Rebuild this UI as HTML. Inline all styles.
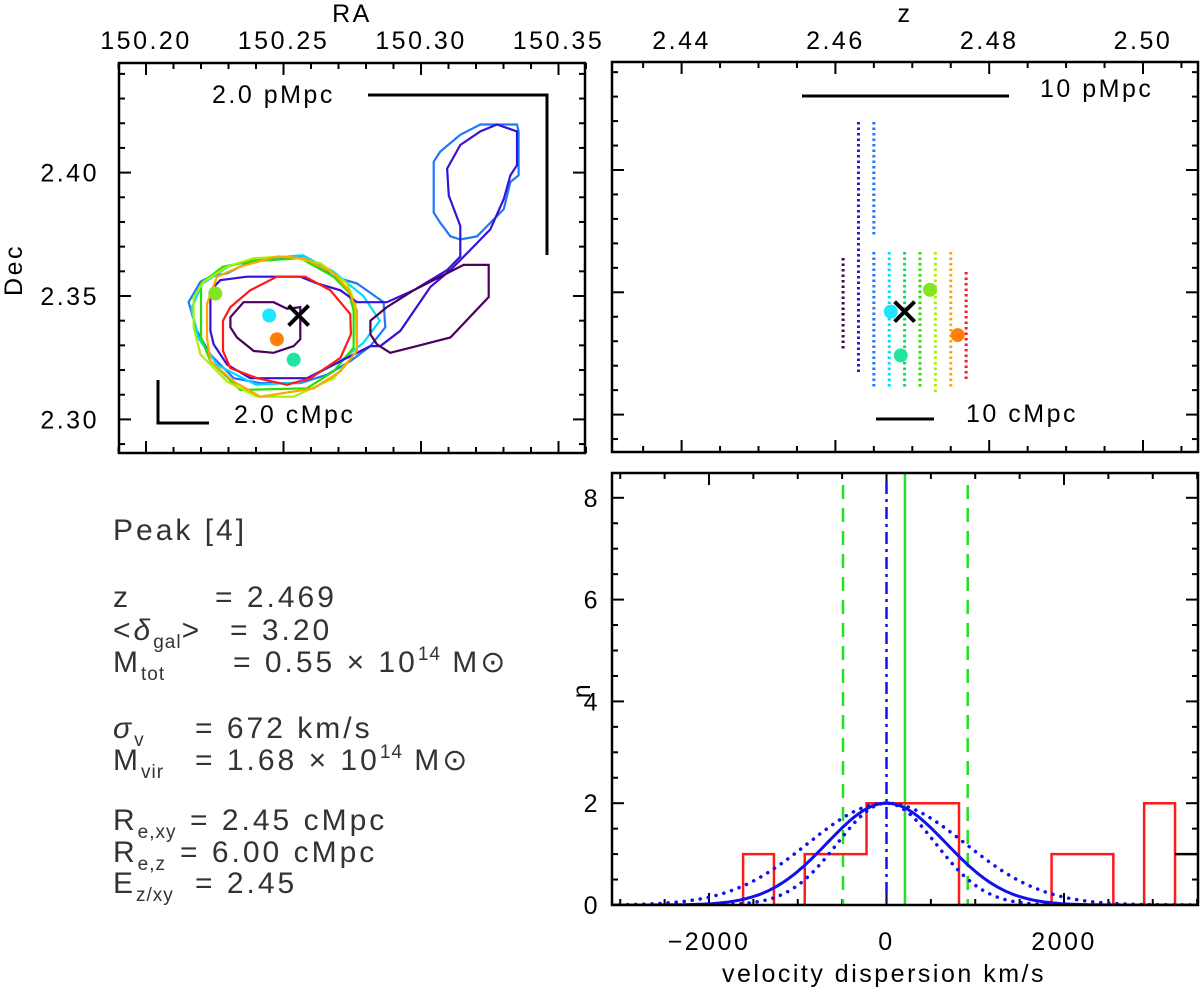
<!DOCTYPE html>
<html><head><meta charset="utf-8"><style>
html,body{margin:0;padding:0;background:#fff;}
svg{display:block;font-family:"Liberation Sans",sans-serif;}
.tl{font-size:25px;letter-spacing:2.5px;fill:#000;}
.info{font-size:30px;fill:#333;font-weight:normal;letter-spacing:3px;}
</style></head><body>
<svg id="fig" width="1200" height="992" viewBox="0 0 1200 992" xmlns="http://www.w3.org/2000/svg">
<g id="info" class="info" xml:space="preserve">
<text x="113" y="540">Peak [4]</text>
<text x="113" y="607">z<tspan x="215">=  2.469</tspan></text>
<text x="113" y="640">&lt;<tspan font-style="italic">δ</tspan><tspan font-size="19" dy="8" letter-spacing="1">gal</tspan><tspan dy="-8">&gt;</tspan><tspan x="230">=  3.20</tspan></text>
<text x="113" y="672">M<tspan font-size="19" dy="8" letter-spacing="1">tot</tspan><tspan x="233" dy="-8">=  0.55 × 10</tspan><tspan font-size="19" dy="-12" letter-spacing="1">14</tspan><tspan dy="12"> M⊙</tspan></text>
<text x="113" y="738"><tspan font-style="italic">σ</tspan><tspan font-size="19" dy="8">v</tspan><tspan x="195" dy="-8">=  672 km/s</tspan></text>
<text x="113" y="770">M<tspan font-size="19" dy="8" letter-spacing="1">vir</tspan><tspan x="195" dy="-8">=  1.68 × 10</tspan><tspan font-size="19" dy="-12" letter-spacing="1">14</tspan><tspan dy="12"> M⊙</tspan></text>
<text x="113" y="830">R<tspan font-size="19" dy="8" letter-spacing="1">e,xy</tspan><tspan x="190" dy="-8">=  2.45 cMpc</tspan></text>
<text x="113" y="862">R<tspan font-size="19" dy="8" letter-spacing="1">e,z</tspan><tspan x="180" dy="-8">=  6.00 cMpc</tspan></text>
<text x="113" y="893">E<tspan font-size="19" dy="8" letter-spacing="1">z/xy</tspan><tspan x="195" dy="-8">=  2.45</tspan></text>
</g>
</svg>
<script>
// ---------- DATA ----------
const raTickLabels=["150.20","150.25","150.30","150.35"];
const decTickLabels=["2.30","2.35","2.40"];
const zTickLabels=["2.44","2.46","2.48","2.50"];
const nTickLabels=["0","2","4","6","8"];
const vTickLabels=["-2000","0","2000"];
// contours (RA, Dec)
const contourPurpleInnerRA=[150.2307,150.2355,150.2464,150.2513,150.2561,150.2561,150.2537,150.2464,150.2392,150.2331,150.2307];
const contourPurpleInnerDec=[2.3414,2.3475,2.3475,2.3448,2.3455,2.3325,2.3297,2.3270,2.3277,2.3332,2.3373];
const contourPurpleArmRA=[150.2816,150.2876,150.2973,150.3155,150.3246,150.3246,150.3107,150.2985,150.2888,150.2840,150.2816];
const contourPurpleArmDec=[2.3400,2.3455,2.3523,2.3626,2.3626,2.3496,2.3332,2.3297,2.3270,2.3304,2.3345];
const contourIndigoRA=[150.2234,150.2270,150.2367,150.2561,150.2622,150.2707,150.2767,150.2876,150.2973,150.3095,150.3143,150.3143,150.3101,150.3095,150.3143,150.3216,150.3276,150.3349,150.3349,150.3325,150.3301,150.3252,150.3192,150.3107,150.3034,150.2925,150.2852,150.2816,150.2755,150.2682,150.2585,150.2379,150.2295,150.2246,150.2234];
const contourIndigoDec=[2.3523,2.3564,2.3578,2.3578,2.3551,2.3523,2.3475,2.3475,2.3523,2.3605,2.3660,2.3784,2.3907,2.4016,2.4112,2.4167,2.4195,2.4167,2.4030,2.3989,2.3893,2.3770,2.3701,2.3605,2.3537,2.3359,2.3297,2.3297,2.3263,2.3222,2.3167,2.3167,2.3222,2.3304,2.3359];
const contourBlueRA=[150.2155,150.2198,150.2234,150.2295,150.2392,150.2561,150.2610,150.2682,150.2767,150.2864,150.2870,150.2816,150.2743,150.2658,150.2561,150.2416,150.2319,150.2234,150.2185];
const contourBlueDec=[2.3475,2.3558,2.3578,2.3592,2.3647,2.3660,2.3633,2.3578,2.3551,2.3475,2.3373,2.3297,2.3236,2.3181,2.3147,2.3147,2.3167,2.3263,2.3359];
const contourBlueBlobRA=[150.3046,150.3070,150.3143,150.3216,150.3349,150.3355,150.3355,150.3325,150.3301,150.3204,150.3143,150.3107,150.3070,150.3046];
const contourBlueBlobDec=[2.4044,2.4085,2.4153,2.4195,2.4195,2.4167,2.3989,2.3962,2.3852,2.3742,2.3729,2.3742,2.3797,2.3838];
const contourCyanRA=[150.2165,150.2205,150.2300,150.2400,150.2570,150.2680,150.2790,150.2850,150.2790,150.2700,150.2560,150.2400,150.2260,150.2190];
const contourCyanDec=[2.3450,2.3550,2.3620,2.3650,2.3665,2.3600,2.3500,2.3400,2.3310,2.3230,2.3150,2.3140,2.3220,2.3330];
const contourGreenRA=[150.2200,150.2280,150.2380,150.2561,150.2682,150.2737,150.2755,150.2755,150.2682,150.2585,150.2343,150.2234,150.2200];
const contourGreenDec=[2.3551,2.3619,2.3640,2.3653,2.3578,2.3516,2.3441,2.3291,2.3195,2.3126,2.3119,2.3236,2.3332];
const contourYGreenRA=[150.2173,150.2210,150.2295,150.2392,150.2513,150.2634,150.2731,150.2761,150.2767,150.2682,150.2537,150.2404,150.2295,150.2198,150.2173];
const contourYGreenDec=[2.3496,2.3558,2.3619,2.3653,2.3660,2.3633,2.3551,2.3468,2.3277,2.3167,2.3092,2.3092,2.3153,2.3263,2.3373];
const contourOrangeRA=[150.2222,150.2258,150.2343,150.2476,150.2573,150.2682,150.2737,150.2767,150.2767,150.2707,150.2610,150.2416,150.2319,150.2234,150.2222];
const contourOrangeDec=[2.3468,2.3578,2.3619,2.3660,2.3653,2.3592,2.3523,2.3441,2.3277,2.3195,2.3126,2.3092,2.3153,2.3236,2.3332];
const contourRedRA=[150.2280,150.2307,150.2379,150.2476,150.2579,150.2670,150.2743,150.2745,150.2707,150.2598,150.2513,150.2404,150.2307,150.2280];
const contourRedDec=[2.3400,2.3455,2.3523,2.3578,2.3578,2.3523,2.3427,2.3345,2.3249,2.3167,2.3140,2.3167,2.3208,2.3277];
// galaxies
const galRA=[150.2252,150.2448,150.2476,150.2537];
const galDec=[2.3510,2.3421,2.3325,2.3242];
const galZ=[2.4723,2.4672,2.4759,2.4685];
const peakRA=150.2555, peakDec=2.3421, peakZ=2.469;
// z-slices (dotted)
const sliceZ=[2.461,2.463,2.465,2.465,2.467,2.469,2.471,2.473,2.475,2.477];
const sliceDecTop=[2.3640,2.4196,2.4196,2.3665,2.3665,2.3665,2.3665,2.3665,2.3665,2.3583];
const sliceDecBot=[2.3264,2.3170,2.3726,2.3113,2.3113,2.3113,2.3113,2.3088,2.3113,2.3141];
// histogram
const binEdges=[-1616,-1268,-921,-573,-225,122,470,817,1165,1513,1860,2208,2556,2903,3251];
const binCounts=[1,0,1,1,2,2,2,0,0,0,1,1,0,2];
const overflowLevel=1;
const fitAmp=2, fitMean=0;
const fitSigmas=[672,883,552];
const medianV=208, medianLo=-490, medianHi=915;

// ---------- helpers ----------
const svg=document.getElementById('fig');
const NS='http://www.w3.org/2000/svg';
function mk(tag,attrs,parent){const e=document.createElementNS(NS,tag);for(const k in attrs)e.setAttribute(k,attrs[k]);(parent||svg).appendChild(e);return e;}
const xRA=r=>146+(r-150.20)*2750, yDec=d=>172.6-(d-2.40)*2468;
const xZ=z=>835.4+(z-2.46)*7690, yDecR=d=>170-(d-2.40)*2446;
const xV=v=>886.5+v*0.08875, yN=n=>905-n*50.9;

function box(x0,y0,x1,y1,name){const r=mk('rect',{x:x0,y:y0,width:x1-x0,height:y1-y0,fill:'none',stroke:'#000','stroke-width':2.5});

}
function xticks(g,scale,lo,hi,step,majorEvery,y0,y1){for(let i=Math.round(lo/step);i*step<=hi+1e-9;i++){const v=i*step;const x=scale(v);const maj=Math.abs(Math.round(v/majorEvery)*majorEvery-v)<step/10;const L=maj?12:6;
mk('line',{x1:x,x2:x,y1:y1,y2:y1-L,stroke:'#000','stroke-width':2},g);mk('line',{x1:x,x2:x,y1:y0,y2:y0+L,stroke:'#000','stroke-width':2},g);}}
function yticks(g,scale,lo,hi,step,majorEvery,x0,x1){for(let i=Math.round(lo/step);i*step<=hi+1e-9;i++){const v=i*step;const y=scale(v);const maj=Math.abs(Math.round(v/majorEvery)*majorEvery-v)<step/10;const L=maj?12:6;
mk('line',{x1:x0,x2:x0+L,y1:y,y2:y,stroke:'#000','stroke-width':2},g);mk('line',{x1:x1,x2:x1-L,y1:y,y2:y,stroke:'#000','stroke-width':2},g);}}
function txt(x,y,s,cls,anchor,extra){const t=mk('text',Object.assign({x:x,y:y,'text-anchor':anchor||'middle',class:cls||'tl'},extra||{}));t.textContent=s;return t;}
function poly(ra,dec,fx,fy,color,name){const pts=ra.map((r,i)=>fx(r).toFixed(1)+','+fy(dec[i]).toFixed(1)).join(' ');
const p=mk('polygon',{points:pts,fill:'none',stroke:color,'stroke-width':2.2});

return p;}
function cross(x,y,name){const g=mk('g',{});

mk('line',{x1:x-10,y1:y-10,x2:x+10,y2:y+10,stroke:'#000','stroke-width':4},g);mk('line',{x1:x-10,y1:y+10,x2:x+10,y2:y-10,stroke:'#000','stroke-width':4},g);}
const galColors=['#80e61e','#1ee6ff','#ff7f0a','#1ee6a0'];

// ---------- Panel 1: RA-Dec ----------
const g1=mk('g',{});

xticks(g1,xRA,150.19,150.36,0.01,0.05,63,453);
yticks(g1,yDec,2.29,2.44,0.01,0.05,119,585);
raTickLabels.forEach(s=>{const t=txt(xRA(parseFloat(s)),49,s);
});
decTickLabels.forEach(s=>{const t=txt(99,yDec(parseFloat(s))+9,s,'tl','end');
});
let t=txt(352,22,'RA','tl','middle',{'font-size':21,'letter-spacing':1});

t=txt(22,270,'Dec','tl','middle',{'font-size':21,'letter-spacing':1,transform:'rotate(-90 22 270)'});

poly(contourBlueBlobRA,contourBlueBlobDec,xRA,yDec,'#1e78ff','contour-blue-blob');
poly(contourBlueRA,contourBlueDec,xRA,yDec,'#1e78ff','contour-blue');
poly(contourCyanRA,contourCyanDec,xRA,yDec,'#00dcff','contour-cyan');
poly(contourGreenRA,contourGreenDec,xRA,yDec,'#28e000','contour-green');
poly(contourYGreenRA,contourYGreenDec,xRA,yDec,'#aaf000','contour-yellowgreen');
poly(contourIndigoRA,contourIndigoDec,xRA,yDec,'#3a10d8','contour-indigo');
poly(contourOrangeRA,contourOrangeDec,xRA,yDec,'#ffa500','contour-orange');
poly(contourRedRA,contourRedDec,xRA,yDec,'#ff1a1a','contour-red');
poly(contourPurpleInnerRA,contourPurpleInnerDec,xRA,yDec,'#4b005a','contour-purple-inner');
poly(contourPurpleArmRA,contourPurpleArmDec,xRA,yDec,'#4b005a','contour-purple-arm');
galRA.forEach((r,i)=>{const c=mk('circle',{cx:xRA(r),cy:yDec(galDec[i]),r:7,fill:galColors[i]});
});
cross(xRA(peakRA),yDec(peakDec),'peak-marker');
box(119,63,585,453,'radec-panel-frame');
let sb=mk('polyline',{points:'368,95 547,95 547,255',fill:'none',stroke:'#000','stroke-width':3});

t=txt(212,103,'2.0  pMpc','tl','start',{'xml:space':'preserve'});

sb=mk('polyline',{points:'158,380 158,423 209,423',fill:'none',stroke:'#000','stroke-width':3});

t=txt(234,423,'2.0  cMpc','tl','start',{'xml:space':'preserve'});


// ---------- Panel 2: z-Dec ----------
const g2=mk('g',{});

xticks(g2,xZ,2.435,2.505,0.005,0.02,62,452);
yticks(g2,yDecR,2.29,2.44,0.01,0.05,612,1198);
zTickLabels.forEach(s=>{const t=txt(xZ(parseFloat(s)),49,s);
});
t=txt(905,22,'z','tl','middle',{'font-size':21});

const sliceColors=['#4b005a','#3a10d8','#1e78ff','#1e78ff','#00dcff','#00e060','#28e000','#aaf000','#ffa500','#ff1a1a'];
sliceZ.forEach((z,i)=>{const l=mk('line',{x1:xZ(z),x2:xZ(z),y1:yDecR(sliceDecTop[i]),y2:yDecR(sliceDecBot[i]),stroke:sliceColors[i],'stroke-width':3,'stroke-dasharray':'2.5 3'});

});
galZ.forEach((z,i)=>{const c=mk('circle',{cx:xZ(z),cy:yDecR(galDec[i]),r:7,fill:galColors[i]});
});
cross(xZ(peakZ),yDecR(peakDec),'peak-marker-z');
box(612,62,1198,452,'zdec-panel-frame');
sb=mk('line',{x1:802,x2:1009,y1:96,y2:96,stroke:'#000','stroke-width':3});

t=txt(1040,97,'10  pMpc','tl','start',{'xml:space':'preserve'});

sb=mk('line',{x1:876,x2:934,y1:419,y2:419,stroke:'#000','stroke-width':3});

t=txt(966,422,'10  cMpc','tl','start',{'xml:space':'preserve'});


// ---------- Panel 3: histogram ----------
const clip=mk('clipPath',{id:'hclip'});mk('rect',{x:612,y:473,width:586,height:433},clip);
const g3=mk('g',{});

xticks(g3,xV,-3000,3500,500,2000,473,905);
yticks(g3,yN,0,8.2,0.5,2,612,1198);
vTickLabels.forEach(s=>{const t=txt(xV(parseFloat(s)),950,s.replace('-','−'));
});
nTickLabels.forEach(s=>{const t=txt(600,yN(parseFloat(s))+9,s,'tl','end');
});
t=txt(884,982,'velocity dispersion km/s','tl','middle',{'font-size':23,'letter-spacing':2});

t=txt(590,690,'n','tl','middle',{'font-size':23,transform:'rotate(-90 590 690)'});

const gh=mk('g',{'clip-path':'url(#hclip)'});
let vl=mk('line',{x1:xV(medianLo),x2:xV(medianLo),y1:485,y2:yN(0),stroke:'#22e022','stroke-width':2.5,'stroke-dasharray':'14 9'},gh);

vl=mk('line',{x1:xV(medianHi),x2:xV(medianHi),y1:485,y2:yN(0),stroke:'#22e022','stroke-width':2.5,'stroke-dasharray':'14 9'},gh);

vl=mk('line',{x1:xV(medianV),x2:xV(medianV),y1:473,y2:yN(0),stroke:'#22e022','stroke-width':2.5},gh);

vl=mk('line',{x1:xV(fitMean),x2:xV(fitMean),y1:482,y2:yN(0),stroke:'#1010ff','stroke-width':2.5,'stroke-dasharray':'12 5 3 5'},gh);

let d='M'+xV(binEdges[0])+','+yN(0);
binCounts.forEach((c,i)=>{d+=' L'+xV(binEdges[i])+','+yN(c)+' L'+xV(binEdges[i+1])+','+yN(c);});
d+=' L'+xV(binEdges[binEdges.length-1])+','+yN(0);
let hp=mk('path',{d:d,fill:'none',stroke:'#ff1a1a','stroke-width':2.5},gh);

hp=mk('line',{x1:xV(binEdges[binEdges.length-1]),x2:1198,y1:yN(overflowLevel),y2:yN(overflowLevel),stroke:'#000','stroke-width':2.5},gh);

mk('line',{x1:612,x2:1198,y1:yN(0),y2:yN(0),stroke:'#ff1a1a','stroke-width':1.5},gh);
fitSigmas.forEach((s,k)=>{let pd='';for(let v=-3100;v<=3500;v+=20){const y=fitAmp*Math.exp(-0.5*Math.pow((v-fitMean)/s,2));pd+=(pd?' L':'M')+xV(v).toFixed(1)+','+yN(y).toFixed(1);}
const p=mk('path',{d:pd,fill:'none',stroke:'#1010ee','stroke-width':k===0?3:3.5,'stroke-dasharray':k===0?'none':'0.1 8','stroke-linecap':'round'},gh);

});
box(612,473,1198,905,'hist-panel-frame');
</script>
</body></html>
